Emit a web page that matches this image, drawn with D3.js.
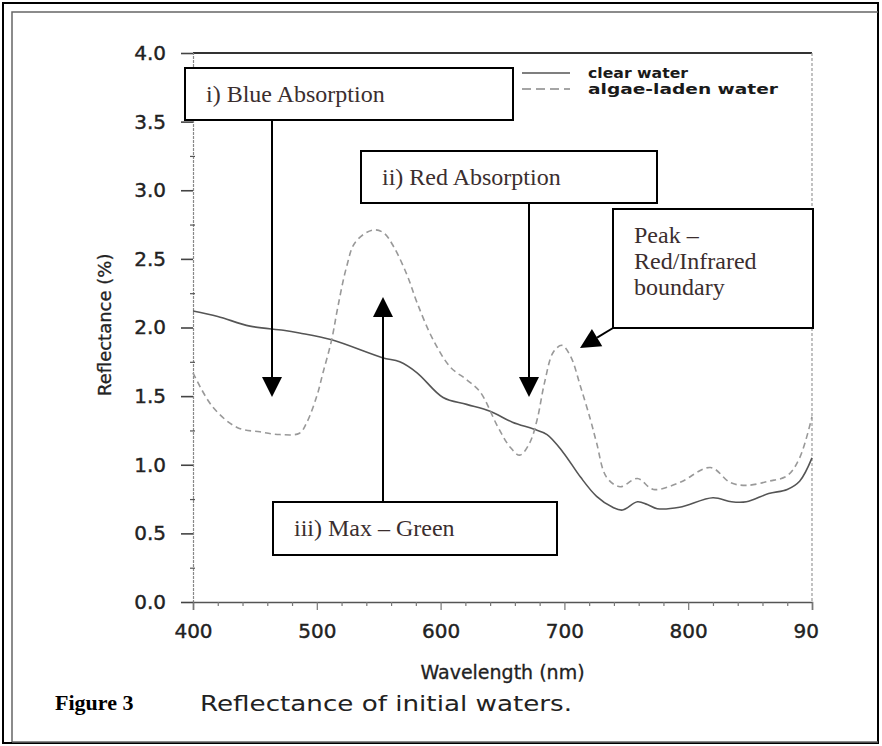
<!DOCTYPE html>
<html>
<head>
<meta charset="utf-8">
<script src="https://cdn.jsdelivr.net/npm/d3@7"></script>
<style>
  body { margin: 0; background: #fff; }
  svg { display: block; }
</style>
</head>
<body>
<svg width="882" height="746"></svg>
<script>
// reflectance curves
var clearWl = [400, 420, 446, 473, 486, 512, 553, 567, 581, 602, 621, 640, 658, 675, 686, 699, 713, 726, 739, 747, 759, 767, 775, 793, 820, 835, 847, 865, 880, 890, 900];
var clearVal = [2.12, 2.08, 2.01, 1.98, 1.96, 1.91, 1.78, 1.75, 1.67, 1.49, 1.44, 1.39, 1.31, 1.26, 1.22, 1.09, 0.91, 0.77, 0.69, 0.67, 0.73, 0.71, 0.68, 0.69, 0.76, 0.73, 0.73, 0.79, 0.82, 0.88, 1.05];

var algaeWl = [400, 416, 436, 454, 470, 486, 492, 500, 505, 512, 517, 524, 531, 545, 554, 562, 573, 581, 594, 608, 621, 632, 646, 656, 664, 672, 678, 684, 691, 698, 705, 713, 721, 726, 734, 745, 759, 772, 793, 818, 834, 847, 865, 880, 890, 900];
var algaeVal = [1.67, 1.42, 1.27, 1.24, 1.22, 1.23, 1.31, 1.50, 1.67, 1.91, 2.15, 2.44, 2.62, 2.71, 2.69, 2.59, 2.38, 2.18, 1.91, 1.71, 1.62, 1.53, 1.28, 1.13, 1.07, 1.16, 1.33, 1.60, 1.82, 1.87, 1.79, 1.57, 1.33, 1.16, 0.91, 0.84, 0.90, 0.82, 0.87, 0.98, 0.87, 0.85, 0.88, 0.92, 1.05, 1.35];

var xTicks = [400, 500, 600, 700, 800, 900];
var xTickLabels = ["400", "500", "600", "700", "800", "90"]; // last label is cut in the scan
var yTicks = [0, 0.5, 1, 1.5, 2, 2.5, 3, 3.5, 4];

var seriesNames = ["clear water", "algae-laden water"];
var legendWidths = [100, 190];

var svg = d3.select("svg");

var x = d3.scaleLinear().domain([400, 900]).range([193, 812]);
var y = d3.scaleLinear().domain([0, 4]).range([602, 53]);

// page borders
svg.append("rect")
  .attr("x", 3).attr("y", 3).attr("width", 875).attr("height", 740)
  .attr("fill", "none").attr("stroke", "#000").attr("stroke-width", 2);
svg.append("path")
  .attr("d", "M12,742 L12,12 L878,12")
  .attr("fill", "none").attr("stroke", "#666").attr("stroke-width", 1.5);
svg.append("line")
  .attr("x1", 12).attr("x2", 878).attr("y1", 742).attr("y2", 742)
  .attr("stroke", "#666").attr("stroke-width", 1.5);

// plot frame
svg.append("line")
  .attr("x1", x(400)).attr("x2", x(900)).attr("y1", y(4)).attr("y2", y(4))
  .attr("stroke", "#333").attr("stroke-width", 2);
svg.append("line")
  .attr("x1", x(900)).attr("x2", x(900)).attr("y1", y(4)).attr("y2", y(0))
  .attr("stroke", "#999").attr("stroke-width", 1.2)
  .attr("stroke-dasharray", "3,2");

// y axis
var yAxisG = svg.append("g")
  .attr("transform", "translate(" + x(400) + ",0)")
  .call(d3.axisLeft(y).tickValues(yTicks).tickSize(12).tickPadding(15)
    .tickFormat(d3.format(".1f")));
yAxisG.select(".domain").attr("stroke", "#888").attr("stroke-width", 1.2)
  .attr("stroke-dasharray", "3,1");
yAxisG.selectAll(".tick line").attr("stroke", "#444").attr("stroke-width", 1.6);
yAxisG.selectAll(".tick text")
  .style("font-family", "DejaVu Sans").style("font-size", "20px")
  .attr("fill", "#222").attr("stroke", "#222").attr("stroke-width", 0.4);

var yMinor = svg.append("g")
  .attr("transform", "translate(" + (x(400) + 2) + ",0)")
  .call(d3.axisLeft(y).tickValues(d3.range(0.25, 4, 0.5)).tickSize(5).tickFormat(""));
yMinor.select(".domain").remove();
yMinor.selectAll(".tick line").attr("stroke", "#555").attr("stroke-width", 1.2);

// x axis
var xAxisG = svg.append("g")
  .attr("transform", "translate(0," + y(0) + ")")
  .call(d3.axisBottom(x).tickValues(xTicks).tickSize(8).tickPadding(14)
    .tickFormat(function (d, i) { return xTickLabels[i]; }));
xAxisG.select(".domain").attr("stroke", "#555").attr("stroke-width", 1.5);
xAxisG.selectAll(".tick line").attr("stroke", "#777").attr("stroke-width", 1.2);
xAxisG.selectAll(".tick text")
  .style("font-family", "DejaVu Sans").style("font-size", "20px")
  .attr("fill", "#222").attr("stroke", "#222").attr("stroke-width", 0.4);
xAxisG.selectAll(".tick").filter(function (d) { return d === 900; })
  .select("text").attr("text-anchor", "start").attr("x", -19);

var xMinor = svg.append("g")
  .attr("transform", "translate(0," + y(0) + ")")
  .call(d3.axisBottom(x).tickValues(d3.range(420, 900, 20).filter(function (d) { return d % 100 !== 0; }))
    .tickSize(4).tickFormat(""));
xMinor.select(".domain").remove();
xMinor.selectAll(".tick line").attr("stroke", "#777").attr("stroke-width", 1.2);

// axis titles
svg.append("text")
  .attr("transform", "translate(111," + y(2.02) + ") rotate(-90)")
  .attr("text-anchor", "middle")
  .style("font-family", "DejaVu Sans").style("font-size", "18px")
  .attr("fill", "#222").attr("stroke", "#222").attr("stroke-width", 0.3)
  .text("Reflectance (%)");

svg.append("text")
  .attr("x", (x(400) + x(900)) / 2).attr("y", 679)
  .attr("text-anchor", "middle")
  .style("font-family", "DejaVu Sans").style("font-size", "19px")
  .attr("fill", "#222").attr("stroke", "#222").attr("stroke-width", 0.3)
  .text("Wavelength (nm)");

// curves
var line = d3.line()
  .x(function (d) { return x(d[0]); })
  .y(function (d) { return y(d[1]); })
  .curve(d3.curveCatmullRom);

svg.append("path")
  .datum(d3.zip(clearWl, clearVal))
  .attr("d", line)
  .attr("fill", "none").attr("stroke", "#555").attr("stroke-width", 1.6);

svg.append("path")
  .datum(d3.zip(algaeWl, algaeVal))
  .attr("d", line)
  .attr("fill", "none").attr("stroke", "#999").attr("stroke-width", 1.6)
  .attr("stroke-dasharray", "6,4");

// legend
var legend = svg.append("g").attr("transform", "translate(522,73)");
legend.selectAll("line")
  .data(seriesNames)
  .enter()
  .append("line")
  .attr("x1", 0).attr("x2", 48)
  .attr("y1", function (d, i) { return i * 16; })
  .attr("y2", function (d, i) { return i * 16; })
  .attr("stroke", function (d, i) { return i === 0 ? "#555" : "#888"; })
  .attr("stroke-width", 1.4)
  .attr("stroke-dasharray", function (d, i) { return i === 0 ? null : "9,5"; });
legend.selectAll("text")
  .data(seriesNames)
  .enter()
  .append("text")
  .attr("x", 66)
  .attr("y", function (d, i) { return i * 16 + 5; })
  .attr("textLength", function (d, i) { return legendWidths[i]; })
  .attr("lengthAdjust", "spacingAndGlyphs")
  .style("font-family", "DejaVu Sans").style("font-size", "14px")
  .style("font-weight", "bold")
  .attr("fill", "#1a1a1a")
  .text(function (d) { return d; });

// annotation boxes
var boxes = [
  { x: 185, y: 68, w: 328, h: 52, lines: ["i) Blue Absorption"] },
  { x: 361, y: 151, w: 296, h: 52, lines: ["ii) Red Absorption"] },
  { x: 613, y: 209, w: 200, h: 119, lines: ["Peak \u2013", "Red/Infrared", "boundary"] },
  { x: 273, y: 502, w: 284, h: 53, lines: ["iii) Max \u2013 Green"] }
];

var boxG = svg.append("g")
  .selectAll("g")
  .data(boxes)
  .enter()
  .append("g");
boxG.append("rect")
  .attr("x", function (d) { return d.x; })
  .attr("y", function (d) { return d.y; })
  .attr("width", function (d) { return d.w; })
  .attr("height", function (d) { return d.h; })
  .attr("fill", "#fff").attr("stroke", "#000").attr("stroke-width", 2);
boxG.each(function (d) {
  d3.select(this).selectAll("text")
    .data(d.lines)
    .enter()
    .append("text")
    .attr("x", d.x + 21)
    .attr("y", function (t, i) { return d.y + 34 + i * 26; })
    .style("font-family", "Liberation Serif").style("font-size", "24px")
    .attr("fill", "#3b2e2e")
    .text(function (t) { return t; });
});

// arrows: [from x, from y, tip x, tip y]
var arrows = [
  [272, 120, 272, 397],
  [529, 203, 529, 397],
  [383, 502, 383, 297],
  [613, 328, 580, 348]
];

arrows.forEach(function (a) {
  var dx = a[2] - a[0], dy = a[3] - a[1];
  var len = Math.sqrt(dx * dx + dy * dy);
  var ux = dx / len, uy = dy / len;
  var bx = a[2] - ux * 20, by = a[3] - uy * 20;
  svg.append("line")
    .attr("x1", a[0]).attr("y1", a[1]).attr("x2", bx).attr("y2", by)
    .attr("stroke", "#000").attr("stroke-width", 2);
  svg.append("path")
    .attr("d", "M" + a[2] + "," + a[3] +
      "L" + (bx - uy * 10) + "," + (by + ux * 10) +
      "L" + (bx + uy * 10) + "," + (by - ux * 10) + "Z")
    .attr("fill", "#000");
});

// caption
svg.append("text")
  .attr("x", 55).attr("y", 710)
  .style("font-family", "Liberation Serif").style("font-size", "22px")
  .style("font-weight", "bold")
  .text("Figure 3");

svg.append("text")
  .attr("x", 200).attr("y", 711)
  .attr("textLength", 372).attr("lengthAdjust", "spacingAndGlyphs")
  .style("font-family", "DejaVu Sans").style("font-size", "21px")
  .attr("fill", "#222")
  .text("Reflectance of initial waters.");
</script>
</body>
</html>
